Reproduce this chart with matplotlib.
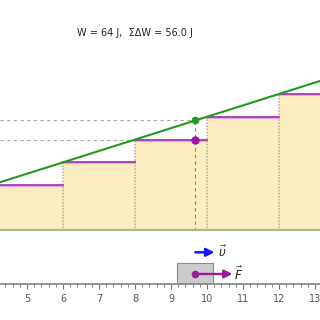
import numpy as np
import matplotlib.pyplot as plt

# krawędzie przedziałów i siła na lewym końcu każdego przedziału
krawedzie = [4, 6, 8, 10, 12, 14]
sila = [6.4, 9.6, 12.8, 16.0, 19.2]
# prosta F(x)
prosta_x = [4.0, 14.0]
prosta_F = [6.4, 22.4]
# położenie klocka i odczyty
pozycja = 9.68
F_poz = 15.5
F_schodek = 12.8
napis = "W = 64 J,  ΣΔW = 56.0 J"
ticki = list(range(5, 14))

x_min, x_max = 4.25, 13.14

fig = plt.figure(figsize=(3.2, 3.2), dpi=100)

# --- wykres siły ---
ax = fig.add_axes([0, 1 - 230.7 / 320, 1, 230.7 / 320])
ax.set_xlim(x_min, x_max)
ax.set_ylim(0, 32.4)
ax.axis("off")

lewe = np.array(krawedzie[:-1])
ax.bar(lewe, sila, width=2, align="edge", color="#fdeec2", edgecolor="none", zorder=1)
for i in range(len(sila)):
    ax.plot([krawedzie[i], krawedzie[i + 1]], [sila[i] - 0.15] * 2, color="#e9a8d8", lw=1.6, zorder=2)
    ax.plot([krawedzie[i], krawedzie[i + 1]], [sila[i], sila[i]], color="#a12fb0", lw=1.2, zorder=3)
for i in range(1, len(sila)):
    ax.plot([krawedzie[i]] * 2, [0, sila[i]], color="#b0aa9a", lw=1.1, ls=(0, (1, 1)), zorder=2)

ax.plot([x_min, pozycja], [F_poz, F_poz], color="#a8a8a8", lw=0.8, ls=(0, (3, 3)), zorder=2)
ax.plot([x_min, pozycja], [F_schodek, F_schodek], color="#a8a8a8", lw=0.8, ls=(0, (3, 3)), zorder=2)
ax.plot([pozycja, pozycja], [0, F_poz], color="#808080", lw=0.8, ls=(0, (3, 3)), zorder=2)

ax.plot(prosta_x, prosta_F, color="#1f9a1f", lw=1.5, zorder=4)
ax.axhline(0.1, color="#9cc084", lw=1.6, zorder=4)
ax.plot(pozycja, F_poz, "o", color="#1f9a1f", ms=4.5, zorder=5)
ax.plot(pozycja, F_schodek, "o", color="#a012a8", ms=5, zorder=5)

fig.text(135 / 320, 1 - 33 / 320, napis, ha="center", va="center", fontsize=7, color="#222222")

# --- oś z klockiem ---
bx = fig.add_axes([0, 1 - 284 / 320, 1, 44 / 320])
for s in ["top", "left", "right"]:
    bx.spines[s].set_visible(False)
bx.spines["bottom"].set_color("#808080")
bx.spines["bottom"].set_linewidth(1.2)
bx.set_yticks([])
bx.set_xticks(ticki)
bx.set_xticks(np.arange(4.4, 13.2, 0.2), minor=True)
bx.set_xlim(x_min, x_max)
bx.set_ylim(0, 44)
bx.tick_params(axis="x", which="major", direction="out", length=3.5, width=0.8, color="#707070",
               labelsize=7, labelcolor="#555555", pad=4)
bx.tick_params(axis="x", which="minor", direction="out", length=2.5, width=0.6, color="#707070")
bx.patch.set_alpha(0)

bx.add_patch(plt.Rectangle((pozycja - 0.5, 0), 1.0, 20.7, facecolor="#cccccc", edgecolor="#8a8a8a", lw=0.8))
bx.annotate("", xy=(pozycja + 1.03, 10), xytext=(pozycja, 10),
            arrowprops=dict(arrowstyle="-|>", color="#9b1b9b", lw=1.7, mutation_scale=12,
                            shrinkA=0, shrinkB=0))
bx.plot(pozycja, 10, "o", color="#9b1b9b", ms=4.5)
bx.text(pozycja + 1.2, 10, r"$\vec{F}$", fontsize=8.5, va="center", ha="center", color="#222222")
bx.annotate("", xy=(pozycja + 0.53, 31.7), xytext=(pozycja, 31.7),
            arrowprops=dict(arrowstyle="-|>", color="#1414ff", lw=1.8, mutation_scale=12,
                            shrinkA=0, shrinkB=0))
bx.text(pozycja + 0.76, 31.2, r"$\vec{\upsilon}$", fontsize=8.5, va="center", ha="center", color="#222222")

fig.savefig("out.png", dpi=100)
